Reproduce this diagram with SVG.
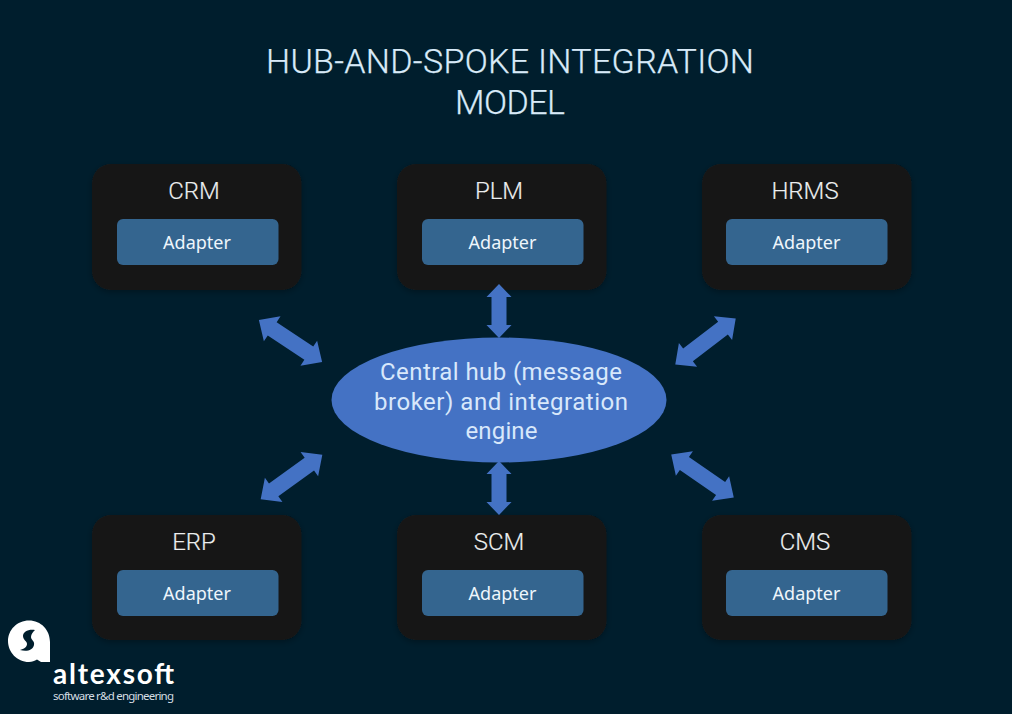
<svg xmlns="http://www.w3.org/2000/svg" width="1012" height="714" viewBox="0 0 1012 714">
<style>
.t{font-family:"Roboto","Liberation Sans",sans-serif;font-weight:300;text-anchor:middle}
.title{font-size:34px;fill:#d8eaf8;stroke:#d8eaf8;stroke-width:.25px}
.sys{font-size:24px;fill:#eceeef;stroke:#eceeef;stroke-width:.15px}
.ad{font-family:"Noto Sans","Liberation Sans",sans-serif;font-size:18px;fill:#eef6fc;text-anchor:middle}
.hub{font-size:24px;fill:#d8e8fb;font-weight:400}
.box{fill:#181818;filter:url(#sh)}
.in{fill:#34658f}
.ar{fill:#4472c4}
</style>
<defs>
<filter id="sh" x="-10%" y="-10%" width="120%" height="125%"><feDropShadow dx="0" dy="2" stdDeviation="3" flood-color="#000" flood-opacity=".3"/></filter>
<polygon id="short" class="ar" points="0,-27 12.500,-14 7.500,-14 7.500,14 12.500,14 0,27 -12.500,14 -7.500,14 -7.500,-14 -12.500,-14"/>
<polygon id="long" class="ar" points="0,-38 15,-22 8,-22 8,22 15,22 0,38 -15,22 -8,22 -8,-22 -15,-22"/>
</defs>
<rect width="1012" height="714" fill="#001e2d"/>
<g id="title" class="t title">
<text x="510" y="72.500" textLength="488" lengthAdjust="spacing">HUB-AND-SPOKE INTEGRATION</text>
<text x="510" y="113.500" textLength="110" lengthAdjust="spacing">MODEL</text>
</g>
<g id="crm"><rect class="box" x="92" y="164" width="209.500" height="126" rx="19"/><rect class="in" x="117" y="219" width="161.500" height="46" rx="6"/><text class="t sys" x="194" y="199">CRM</text><text class="ad" x="197" y="249">Adapter</text></g>
<g id="plm"><rect class="box" x="397" y="164" width="209.500" height="126" rx="19"/><rect class="in" x="422" y="219" width="161.500" height="46" rx="6"/><text class="t sys" x="499" y="199">PLM</text><text class="ad" x="502.500" y="249">Adapter</text></g>
<g id="hrms"><rect class="box" x="702" y="164" width="209.500" height="126" rx="19"/><rect class="in" x="726" y="219" width="161.500" height="46" rx="6"/><text class="t sys" x="805" y="199">HRMS</text><text class="ad" x="806.500" y="249">Adapter</text></g>
<g id="erp"><rect class="box" x="92" y="515" width="209.500" height="125" rx="19"/><rect class="in" x="117" y="570" width="161.500" height="46" rx="6"/><text class="t sys" x="194" y="550">ERP</text><text class="ad" x="197" y="600">Adapter</text></g>
<g id="scm"><rect class="box" x="397" y="515" width="209.500" height="125" rx="19"/><rect class="in" x="422" y="570" width="161.500" height="46" rx="6"/><text class="t sys" x="499" y="550">SCM</text><text class="ad" x="502.500" y="600">Adapter</text></g>
<g id="cms"><rect class="box" x="702" y="515" width="209.500" height="125" rx="19"/><rect class="in" x="726" y="570" width="161.500" height="46" rx="6"/><text class="t sys" x="805" y="550">CMS</text><text class="ad" x="806.500" y="600">Adapter</text></g>
<g id="connectors">
<use href="#short" transform="translate(499,311)"/>
<use href="#short" transform="translate(499,488)"/>
<use href="#long" transform="translate(290.500,341) rotate(-56.300)"/>
<use href="#long" transform="translate(705.500,341.500) rotate(52.700)"/>
<use href="#long" transform="translate(291.500,477) rotate(54.200)"/>
<use href="#long" transform="translate(702.500,476) rotate(-55.400)"/>
</g>
<g id="hub">
<ellipse cx="499" cy="400" rx="167.500" ry="62.500" fill="#4472c4"/>
<g class="t hub">
<text x="501" y="380" textLength="242" lengthAdjust="spacing">Central hub (message</text>
<text x="501" y="410" textLength="254" lengthAdjust="spacing">broker) and integration</text>
<text x="501.500" y="439" textLength="72" lengthAdjust="spacing">engine</text>
</g>
</g>
<g id="logo">
<path d="M29,620.500 C41,620.500 50,630 50,642 L50,662 L41,662 L37,659.500 C34.500,661 32,662 29,662 C17,662 8,652 8,641 C8,630 17,620.500 29,620.500 Z" fill="#fff"/>
<path d="M35,630 C28,629 23,632 23,636 C23,640 27,641 27,644 C27,647 24,649 20,650 C27,652 33,650 34,645 C35,641 31,640 31,637 C31,634 33,632 35,630 Z" fill="#001e2d"/>
<text x="53" y="684" textLength="121" lengthAdjust="spacing" font-family="Lato,'Noto Sans',sans-serif" font-weight="700" font-size="28" fill="#fff">altexsoft</text>
<text x="53" y="700" textLength="121" lengthAdjust="spacing" font-family="'Noto Sans',Lato,sans-serif" font-size="11.500" fill="#d5dde3">software r&amp;d engineering</text>
</g>
</svg>
